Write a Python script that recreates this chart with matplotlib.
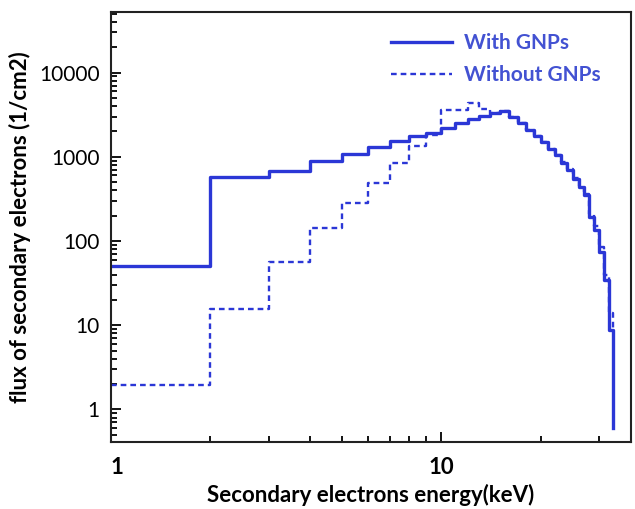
import matplotlib
matplotlib.use("Agg")
import matplotlib.pyplot as plt
from matplotlib.ticker import LogLocator, FixedLocator, NullFormatter, FuncFormatter

plt.rcParams["font.family"] = ["Lato", "DejaVu Sans"]

# bin left edges (keV); last entry is the end point of the step line
energy = [1, 2, 3, 4, 5, 6, 7, 8, 9, 10, 11, 12, 13, 14, 15, 16, 17,
          18, 19, 20, 21, 22, 23, 24, 25, 26, 27, 28, 29, 30, 31, 32, 33]

flux_with = [50, 582, 686, 901, 1074, 1300, 1532, 1771, 1938, 2188, 2506,
             2797, 3064, 3298, 3540, 2970, 2500, 2094, 1758, 1480, 1245,
             1047, 850, 699, 550, 437, 352, 195, 135, 75, 34.5, 8.8, 0.6]

flux_without = [1.94, 15.6, 56.9, 142, 286, 494, 839, 1346, 1800, 3600, 3600,
                4300, 3700, 3300, 3500, 2990, 2520, 2110, 1770, 1490, 1255,
                1055, 860, 710, 560, 445, 360, 210, 150, 85, 40, 14, 9]

line_col = "#2b37d6"
text_col = "#4352d2"

fig = plt.figure(figsize=(6.35, 5.09), dpi=100)
ax = fig.add_axes([0.1743, 0.1316, 0.8194, 0.8442])

ax.step(energy, flux_with, where="post", color=line_col, lw=2.4,
        label="With GNPs")
ax.step(energy, flux_without, where="post", color=line_col, lw=1.7,
        linestyle=(0, (2.4, 1.7)), label="Without GNPs")

ax.set_xscale("log")
ax.set_yscale("log")
ax.set_xlim(1, 37.4)
ax.set_ylim(0.41, 52000)

# ticks
ax.xaxis.set_major_locator(FixedLocator([1, 10]))
ax.xaxis.set_minor_locator(FixedLocator([2, 3, 4, 5, 6, 7, 8, 9, 20, 30]))
ax.xaxis.set_minor_formatter(NullFormatter())
ax.xaxis.set_major_formatter(FuncFormatter(lambda v, p: "%d" % v))

ax.yaxis.set_major_locator(FixedLocator([1, 10, 100, 1000, 10000]))
ax.yaxis.set_minor_locator(LogLocator(base=10, subs=range(2, 10), numticks=20))
ax.yaxis.set_minor_formatter(NullFormatter())
ax.yaxis.set_major_formatter(FuncFormatter(lambda v, p: "%d" % v))

ax.tick_params(axis="both", which="both", direction="in", top=False,
               right=False, color="black", width=1.3)
ax.tick_params(axis="both", which="major", length=7)
ax.tick_params(axis="both", which="minor", length=4.5)
ax.tick_params(axis="x", which="major", pad=11, labelsize=16)
ax.tick_params(axis="y", which="major", pad=8, labelsize=15)
for lab in ax.get_xticklabels():
    lab.set_fontweight("bold")
for lab in ax.get_xticklabels()[:1]:
    lab.set_horizontalalignment("left")

for s in ax.spines.values():
    s.set_linewidth(1.5)
    s.set_color("#222222")

ax.set_xlabel("Secondary electrons energy(keV)", fontsize=16,
              fontweight="bold", labelpad=4)
ax.set_ylabel("flux of secondary electrons (1/cm2)", fontsize=16,
              fontweight="bold", labelpad=6)

leg = ax.legend(loc="upper right", bbox_to_anchor=(0.97, 0.985),
                frameon=False, prop={"weight": "bold", "size": 15},
                handlelength=2.9, borderaxespad=0.3, labelspacing=0.55,
                handletextpad=0.6)
for t in leg.get_texts():
    t.set_color(text_col)

fig.savefig("out.png", dpi=100)
